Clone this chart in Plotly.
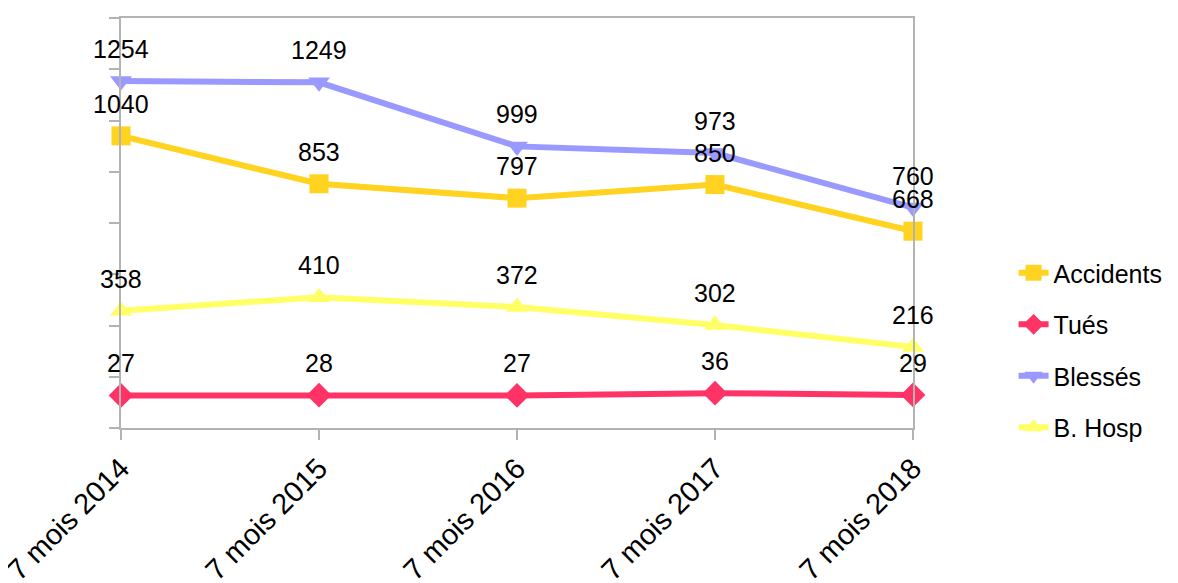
import plotly.graph_objects as go

categories = ["7 mois 2014", "7 mois 2015", "7 mois 2016", "7 mois 2017", "7 mois 2018"]
accidents = [1040, 853, 797, 850, 668]
tues = [27, 28, 27, 36, 29]
blesses = [1254, 1249, 999, 973, 760]
b_hosp = [358, 410, 372, 302, 216]

series = [
    ("Accidents", accidents, "#ffd320", "square", 19),
    ("Tués", tues, "#ff3366", "diamond", 19),
    ("Blessés", blesses, "#9999ff", "triangle-down", 19),
    ("B. Hosp", b_hosp, "#ffff66", "triangle-up", 19),
]

xs = list(range(len(categories)))
fig = go.Figure()
annotations = []
for name, vals, color, sym, size in series:
    fig.add_trace(go.Scatter(
        x=xs, y=vals, name=name, mode="lines+markers",
        line=dict(color=color, width=6),
        marker=dict(symbol=sym, size=size, color=color),
        cliponaxis=False, legendgroup=name,
    ))
    for xi, v in zip(xs, vals):
        annotations.append(dict(
            x=xi, y=v, xref="x", yref="y", text=str(v), showarrow=False,
            yshift=32, font=dict(family="Liberation Sans, Arial", size=25, color="black"),
        ))

axis_color = "#b3b3b3"
fig.update_layout(
    width=1178, height=583,
    margin=dict(l=113, r=273, t=10, b=163, autoexpand=False),
    paper_bgcolor="white", plot_bgcolor="white",
    font=dict(family="Liberation Sans, Arial", size=26, color="black"),
    showlegend=True,
    legend=dict(
        x=1.127, xanchor="left", y=0.19, yanchor="middle",
        font=dict(size=25), traceorder="grouped", tracegroupgap=16,
        bgcolor="rgba(0,0,0,0)", itemwidth=30,
    ),
    annotations=annotations,
)
fig.update_xaxes(
    range=[0, 4], tickvals=xs, ticktext=categories, tickangle=-45,
    showgrid=False, zeroline=False, showline=True, linecolor=axis_color, linewidth=1.5,
    mirror=True, ticks="outside", ticklen=10, tickcolor=axis_color, tickwidth=1.5,
    tickfont=dict(size=29, color="black"), automargin=False, ticklabeloverflow="allow",
)
fig.update_yaxes(
    range=[-100, 1500], dtick=200, tick0=-100, showticklabels=False,
    showgrid=False, zeroline=False, showline=True, linecolor=axis_color, linewidth=1.5,
    mirror=True, ticks="outside", ticklen=10, tickcolor=axis_color, tickwidth=1.5,
    automargin=False,
)
fig.write_html("out.html")
